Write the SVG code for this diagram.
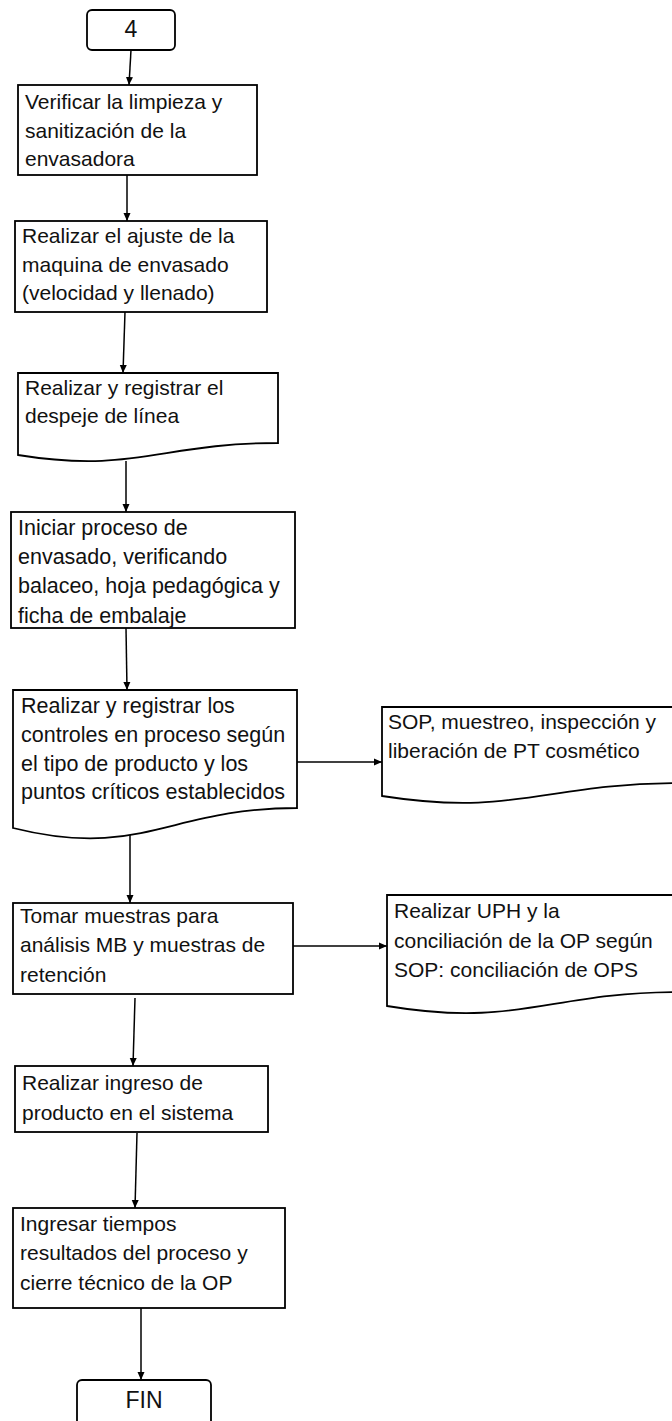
<svg xmlns="http://www.w3.org/2000/svg" width="672" height="1421" viewBox="0 0 672 1421">
<defs>
<marker id="ah" markerWidth="8" markerHeight="8" refX="8" refY="4" orient="auto" markerUnits="userSpaceOnUse">
<path d="M0,0.5 L8,4 L0,7.5 Z" fill="#000"/>
</marker>
<style>
.n{fill:#fff;stroke:#000;stroke-width:1.8}
.t{font-family:"Liberation Sans",Arial,sans-serif;font-size:21px;fill:#111}
.b{font-size:21.5px}
.c{stroke:#000;stroke-width:1.5;fill:none;marker-end:url(#ah)}
</style>
</defs>
<rect width="672" height="1421" fill="#fff"/>
<g id="connectors">
<line class="c" x1="131" y1="50" x2="129" y2="85"/>
<line class="c" x1="127" y1="175" x2="127" y2="221"/>
<line class="c" x1="125" y1="312" x2="123" y2="373"/>
<line class="c" x1="126" y1="461" x2="126" y2="512"/>
<line class="c" x1="126" y1="628" x2="127" y2="690"/>
<line class="c" x1="297" y1="762" x2="382" y2="762"/>
<line class="c" x1="130" y1="834" x2="130" y2="903"/>
<line class="c" x1="293" y1="946" x2="387" y2="946"/>
<line class="c" x1="135" y1="998" x2="133" y2="1066"/>
<line class="c" x1="137" y1="1133" x2="135" y2="1208"/>
<line class="c" x1="141" y1="1308" x2="141" y2="1380"/>
</g>
<g id="start">
<rect class="n" x="87" y="10" width="88" height="40" rx="5"/>
<text class="t" x="131" y="37" text-anchor="middle" style="font-size:23px">4</text>
</g>
<g id="n1">
<rect class="n" x="18" y="85" width="239" height="90"/>
<text class="t" x="25" y="109">Verificar la limpieza y</text>
<text class="t" x="25" y="138">sanitización de la</text>
<text class="t" x="25" y="166">envasadora</text>
</g>
<g id="n2">
<rect class="n" x="15" y="221" width="252" height="91"/>
<text class="t" x="22" y="243">Realizar el ajuste de la</text>
<text class="t" x="22" y="272">maquina de envasado</text>
<text class="t" x="22" y="300">(velocidad y llenado)</text>
</g>
<g id="n3">
<path class="n" d="M18,373 H278 V443 C161,443 135,474 18,455 Z"/>
<text class="t" x="25" y="395">Realizar y registrar el</text>
<text class="t" x="25" y="423">despeje de línea</text>
</g>
<g id="n4">
<rect class="n" x="11" y="512" width="284" height="116"/>
<text class="t b" x="18" y="535">Iniciar proceso de</text>
<text class="t b" x="18" y="564">envasado, verificando</text>
<text class="t b" x="18" y="593">balaceo, hoja pedagógica y</text>
<text class="t b" x="18" y="623">ficha de embalaje</text>
</g>
<g id="n5">
<path class="n" d="M13,690 H297 V808 C169,808 141,860 13,828 Z"/>
<text class="t b" x="21" y="713">Realizar y registrar los</text>
<text class="t b" x="21" y="742">controles en proceso según</text>
<text class="t b" x="21" y="771">el tipo de producto y los</text>
<text class="t b" x="21" y="799">puntos críticos establecidos</text>
</g>
<g id="n5b">
<path class="n" d="M382,707 H680 V783 C546,783 516,817 382,796 Z"/>
<text class="t" x="388" y="729">SOP, muestreo, inspección y</text>
<text class="t" x="388" y="758">liberación de PT cosmético</text>
</g>
<g id="n6">
<rect class="n" x="13" y="903" width="280" height="91"/>
<text class="t" x="20" y="923">Tomar muestras para</text>
<text class="t" x="20" y="952">análisis MB y muestras de</text>
<text class="t" x="20" y="982">retención</text>
</g>
<g id="n6b">
<path class="n" d="M387,895 H680 V992 C548,992 519,1028 387,1006 Z"/>
<text class="t" x="394" y="918">Realizar UPH y la</text>
<text class="t" x="394" y="948">conciliación de la OP según</text>
<text class="t" x="394" y="977">SOP: conciliación de OPS</text>
</g>
<g id="n7">
<rect class="n" x="15" y="1066" width="253" height="66"/>
<text class="t" x="22" y="1090">Realizar ingreso de</text>
<text class="t" x="22" y="1120">producto en el sistema</text>
</g>
<g id="n8">
<rect class="n" x="13" y="1208" width="272" height="100"/>
<text class="t" x="20" y="1231">Ingresar tiempos</text>
<text class="t" x="20" y="1260">resultados del proceso y</text>
<text class="t" x="20" y="1290">cierre técnico de la OP</text>
</g>
<g id="end">
<rect class="n" x="77" y="1380" width="134" height="50" rx="5"/>
<text class="t" x="144" y="1408" text-anchor="middle" style="font-size:23px">FIN</text>
</g>
</svg>
